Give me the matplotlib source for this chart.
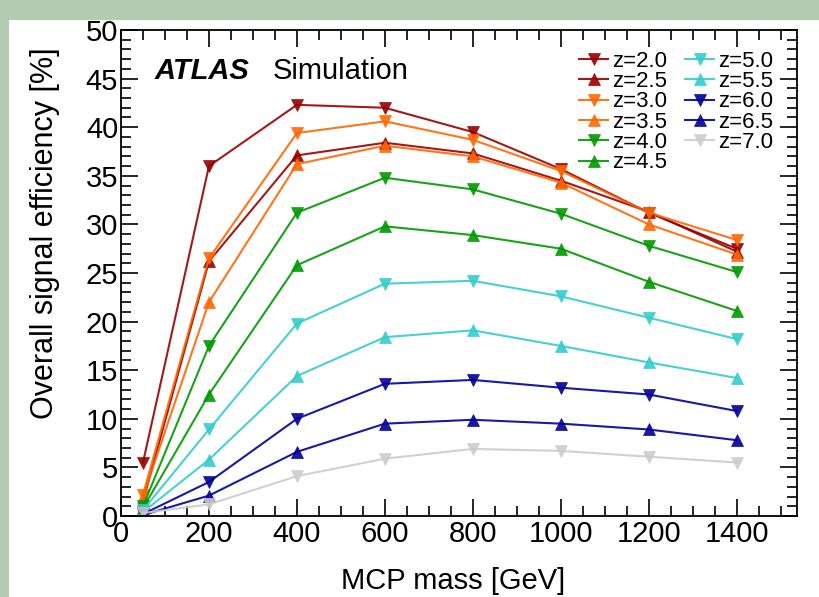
import matplotlib
matplotlib.use("Agg")
import matplotlib.pyplot as plt
from matplotlib.patches import Rectangle
from matplotlib.ticker import MultipleLocator

plt.rcParams["font.family"] = ["Liberation Sans", "DejaVu Sans"]

# MCP mass points [GeV]
masses = [50, 200, 400, 600, 800, 1000, 1200, 1400]

# efficiency [%] per charge z
eff_z20 = [5.5, 36.0, 42.3, 42.0, 39.5, 35.7, 31.2, 27.5]
eff_z25 = [1.5, 26.2, 37.1, 38.4, 37.3, 34.5, 31.3, 27.2]
eff_z30 = [2.2, 26.5, 39.4, 40.6, 38.7, 35.5, 31.2, 28.4]
eff_z35 = [2.0, 22.0, 36.2, 38.1, 37.0, 34.3, 30.0, 26.9]
eff_z40 = [1.0, 17.5, 31.2, 34.8, 33.6, 31.1, 27.8, 25.1]
eff_z45 = [0.8, 12.5, 25.8, 29.8, 28.9, 27.5, 24.1, 21.1]
eff_z50 = [0.6, 8.9, 19.8, 23.9, 24.2, 22.6, 20.4, 18.2]
eff_z55 = [0.4, 5.8, 14.4, 18.4, 19.1, 17.5, 15.8, 14.2]
eff_z60 = [0.2, 3.5, 10.0, 13.6, 14.0, 13.2, 12.5, 10.8]
eff_z65 = [0.1, 2.1, 6.6, 9.5, 9.9, 9.5, 8.9, 7.8]
eff_z70 = [0.3, 1.2, 4.1, 5.9, 6.9, 6.7, 6.1, 5.5]

labels = ["z=2.0", "z=2.5", "z=3.0", "z=3.5", "z=4.0", "z=4.5",
          "z=5.0", "z=5.5", "z=6.0", "z=6.5", "z=7.0"]
series = [eff_z20, eff_z25, eff_z30, eff_z35, eff_z40, eff_z45,
          eff_z50, eff_z55, eff_z60, eff_z65, eff_z70]
colors = ["#990000", "#990000", "#ff6600", "#ff6600", "#009900", "#009900",
          "#33cccc", "#33cccc", "#000099", "#000099", "#cccccc"]
markers = ["v", "^", "v", "^", "v", "^", "v", "^", "v", "^", "v"]

fig = plt.figure(figsize=(8.2, 5.97), dpi=100)
fig.patch.set_facecolor("#b3cbb0")
# white card on the green frame
card = Rectangle((9 / 820, 0), 1, 1 - 20 / 597, transform=fig.transFigure,
                 facecolor="white", edgecolor="none", zorder=-10)
fig.add_artist(card)

ax = fig.add_axes([121 / 820, 1 - 516 / 597, (797 - 121) / 820, (516 - 30) / 597])
ax.set_facecolor("none")

for y, lab, c, m in zip(series, labels, colors, markers):
    ax.plot(masses, y, color=c, marker=m, markersize=8.5, linewidth=1.5,
            label=lab, alpha=0.9, markeredgewidth=0.5)

ax.set_xlim(0, 1537)
ax.set_ylim(0, 50)
ax.xaxis.set_major_locator(MultipleLocator(200))
ax.xaxis.set_minor_locator(MultipleLocator(50))
ax.yaxis.set_major_locator(MultipleLocator(5))
ax.yaxis.set_minor_locator(MultipleLocator(1))
ax.tick_params(which="both", direction="in", top=True, right=True, labelsize=21, width=1.2)
ax.tick_params(which="major", length=12)
ax.tick_params(which="minor", length=7)
ax.tick_params(axis="x", pad=3)
ax.tick_params(axis="y", pad=2)
for sp in ax.spines.values():
    sp.set_linewidth(1.3)

ax.set_xlabel("MCP mass [GeV]", fontsize=21)
ax.xaxis.set_label_coords(0.657, -0.105)
ax.xaxis.label.set_ha("right")
ax.set_ylabel("Overall signal efficiency [%]", fontsize=22)
ax.yaxis.set_label_coords(-0.112, 0.965)
ax.yaxis.label.set_ha("right")
ax.yaxis.label.set_va("center")

ax.text(0.05, 0.90, "ATLAS", transform=ax.transAxes, fontsize=21,
        fontweight="bold", fontstyle="italic")
ax.text(0.224, 0.90, "Simulation", transform=ax.transAxes, fontsize=21)

ax.legend(ncol=2, loc="upper right", bbox_to_anchor=(0.985, 0.985), frameon=False,
          fontsize=16, handlelength=1.3, handletextpad=0.2, columnspacing=0.8,
          labelspacing=-0.03, borderaxespad=0.2)

fig.savefig("out.png", dpi=100, facecolor=fig.get_facecolor())
